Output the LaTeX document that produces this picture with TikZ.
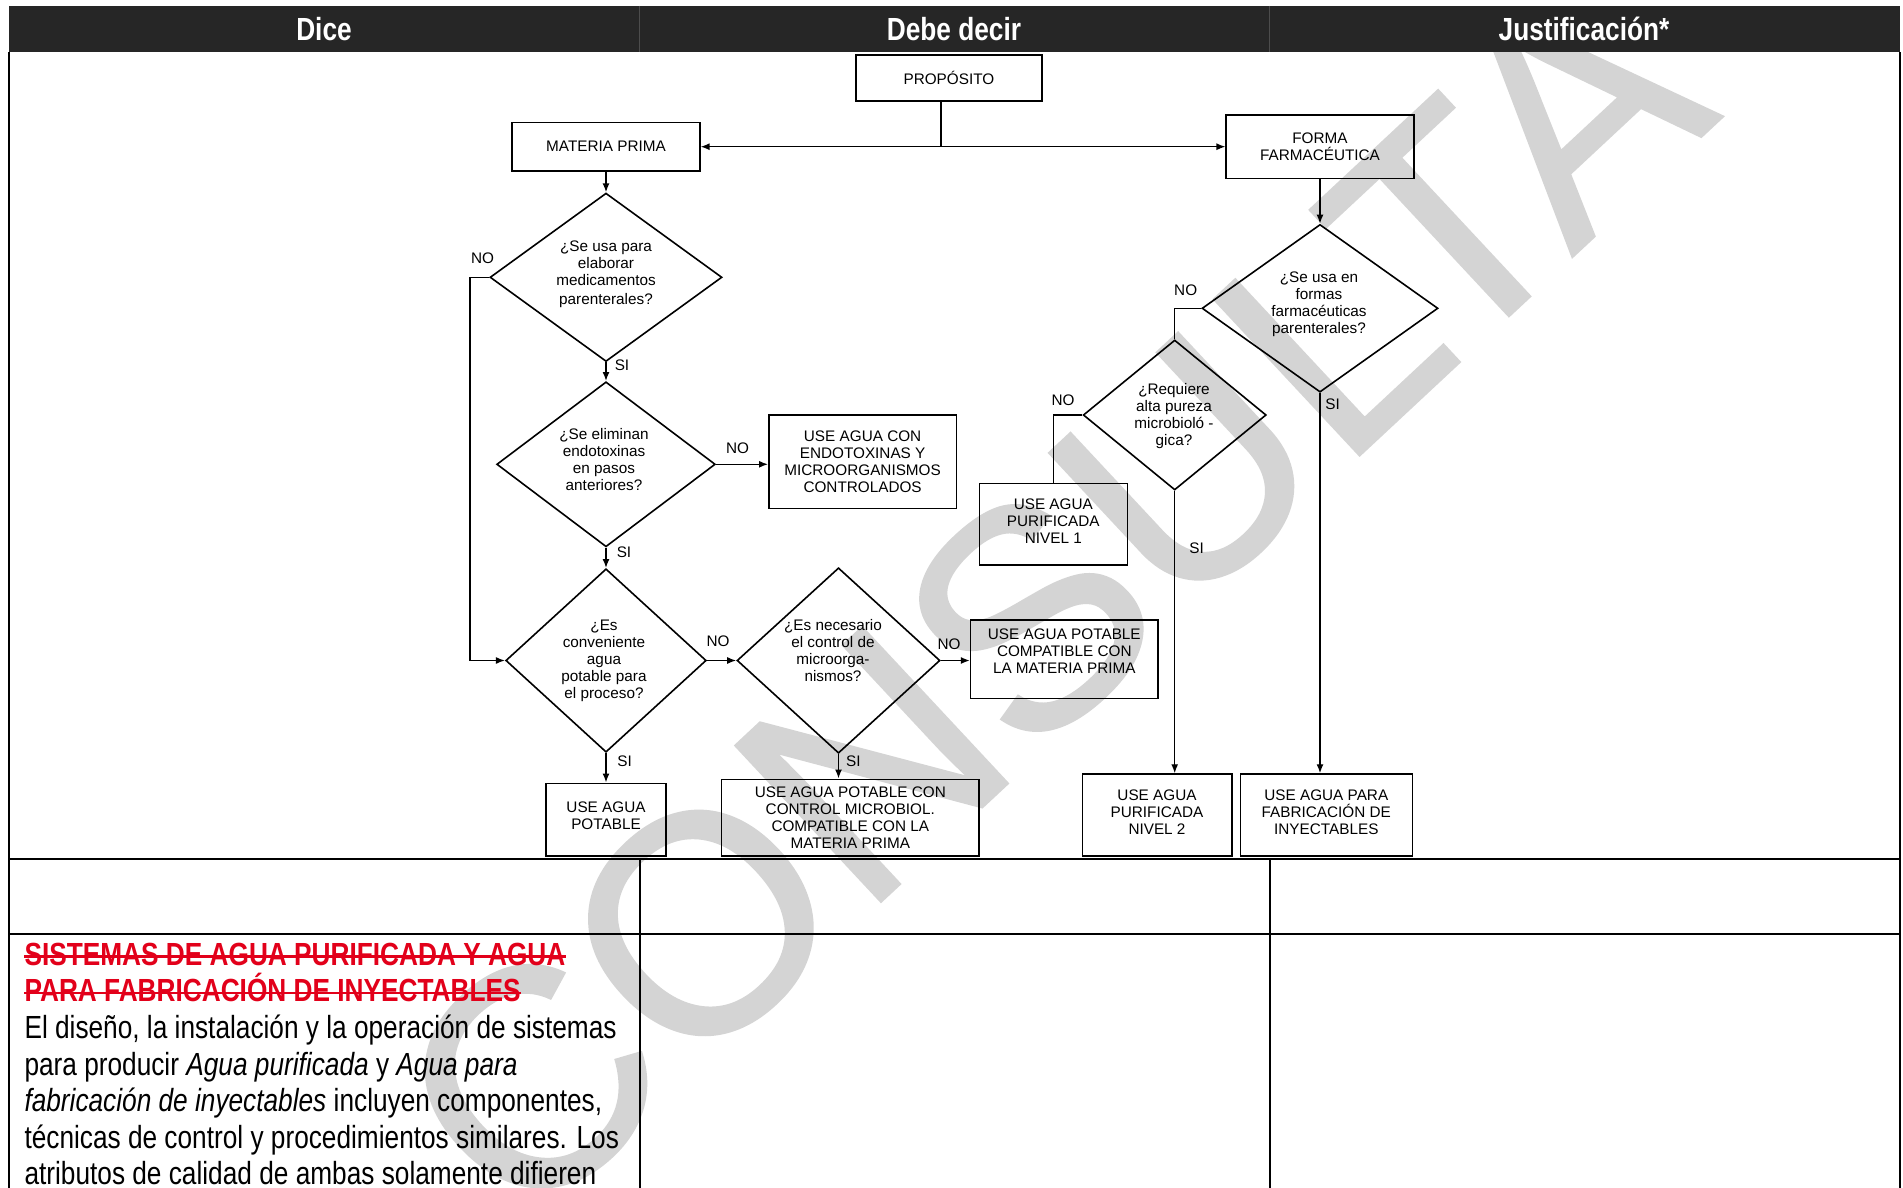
\documentclass[tikz,border=0pt]{standalone}
\usepackage{fontspec}
\setmainfont{Liberation Sans}
\newfontfamily\narrowfont[FakeStretch=0.82]{Liberation Sans}
\newfontfamily\wmfont[FakeBold=0.8]{Liberation Sans}
\usetikzlibrary{shapes.geometric,arrows.meta,calc}
\definecolor{hdr}{RGB}{38,38,38}
\definecolor{redtxt}{RGB}{226,0,26}
\definecolor{wm}{RGB}{212,212,212}
\begin{document}
\begin{tikzpicture}[x=1pt,y=-1pt,
  fc/.style={font=\fontsize{15.3}{17}\selectfont},
  box/.style={draw, line width=1.6pt, inner sep=0pt, align=center, fc},
  dia/.style={draw, diamond, line width=1.6pt, inner sep=0pt},
  dtext/.style={align=center, fc, inner sep=0pt},
  lbl/.style={fc, inner sep=0pt},
  arr/.style={line width=1.4pt, -{Latex[length=9pt,width=7pt]}},
  ln/.style={line width=1.4pt},
  tline/.style={line width=2pt},
  hd/.style={anchor=base, text=white, inner sep=0pt, font=\narrowfont\bfseries\fontsize{32}{36}\selectfont},
  body/.style={anchor=base west, inner sep=0pt, font=\narrowfont\fontsize{32}{36.6}\selectfont},
  strike/.style={draw=redtxt, line width=2.2pt}
]
\useasboundingbox (0,0) rectangle (1903,1188);
\clip (0,0) rectangle (1903,1188);
\fill[white] (0,0) rectangle (1903,1188);

% watermark
\node[rotate=43, text=wm, inner sep=0pt, font=\wmfont\fontsize{310}{310}\selectfont] (wmk) at (1050,598) {CONSULTA};

% header
\fill[hdr] (8.5,6) rectangle (1899.5,52);
\draw[black!70, line width=1pt] (639.6,6) -- (639.6,52) (1269.5,6) -- (1269.5,52);
\node[hd] (h1) at (324,41) {Dice};
\node[hd] (h2) at (954,41) {Debe decir};
\node[hd] (h3) at (1584,41) {Justificación*};

% table lines
\draw[tline] (8.5,52) -- (8.5,1188) (1899.5,52) -- (1899.5,1188)
  (8.5,859) -- (1899.5,859) (8.5,934) -- (1899.5,934)
  (639.6,859) -- (639.6,1188) (1269.5,859) -- (1269.5,1188);

% boxes
\node[box, minimum width=186.3pt, minimum height=45.7pt] (prop) at (948.9,77.9) {PROPÓSITO};
\node[box, minimum width=187.6pt, minimum height=48pt] (mp) at (606,146.7) {MATERIA PRIMA};
\node[box, minimum width=187.5pt, minimum height=63.3pt] (ff) at (1320,146.7) {FORMA\\FARMACÉUTICA};
\node[box, minimum width=187.5pt, minimum height=93.3pt] (endo) at (862.6,461.7) {USE AGUA CON\\ENDOTOXINAS Y\\MICROORGANISMOS\\CONTROLADOS};
\node[box, minimum width=148pt, minimum height=81.7pt] (niv1) at (1053.3,524.2) {};
\node[dtext] (niv1t) at (1053.3,521) {USE AGUA\\PURIFICADA\\NIVEL 1};
\node[box, minimum width=187.4pt, minimum height=78.3pt] (pcomp) at (1064.3,659.2) {};
\node[dtext] (pcompt) at (1064.3,651) {USE AGUA POTABLE\\COMPATIBLE CON\\LA MATERIA PRIMA};
\node[box, minimum width=119.6pt, minimum height=72.4pt] (potable) at (606,819.5) {};
\node[dtext] (potablet) at (606,815.5) {USE AGUA\\POTABLE};
\node[box, minimum width=257.9pt, minimum height=76.4pt] (pctrl) at (850.3,817.5) {USE AGUA POTABLE CON\\CONTROL MICROBIOL.\\COMPATIBLE CON LA\\MATERIA PRIMA};
\node[box, minimum width=149.4pt, minimum height=81.7pt] (niv2) at (1157,814.9) {};
\node[dtext] (niv2t) at (1157,812) {USE AGUA\\PURIFICADA\\NIVEL 2};
\node[box, minimum width=172pt, minimum height=81.7pt] (iny) at (1326.3,814.9) {};
\node[dtext] (inyt) at (1326.3,812) {USE AGUA PARA\\FABRICACIÓN DE\\INYECTABLES};

% diamonds
\node[dia, minimum width=232pt, minimum height=168.4pt] (d1) at (606,277.3) {};
\node[dtext] (d1t) at (606,274) {¿Se usa para\\elaborar\\medicamentos\\[2pt]parenterales?};
\node[dia, minimum width=218.6pt, minimum height=165pt] (d2) at (606,464.3) {};
\node[dtext] (d2t) at (604,460) {¿Se eliminan\\endotoxinas\\en pasos\\anteriores?};
\node[dia, minimum width=200.5pt, minimum height=183.4pt] (d3) at (606,660.5) {};
\node[dtext] (d3t) at (604,661) {¿Es\\conveniente\\agua\\potable para\\el proceso?};
\node[dia, minimum width=203pt, minimum height=185.4pt] (d4) at (838.5,660.5) {};
\node[dtext] (d4t) at (833,651) {¿Es necesario\\el control de\\microorga-\\nismos?};
\node[dia, minimum width=236pt, minimum height=167.7pt] (d5) at (1320,308.3) {};
\node[dtext] (d5t) at (1319,304) {¿Se usa en\\formas\\farmacéuticas\\parenterales?};
\node[dia, minimum width=183pt, minimum height=150pt] (d6) at (1174.7,415) {};
\node[dtext] (d6t) at (1174,416) {¿Requiere\\alta pureza\\microbioló -\\gica?};

% connectors
\coordinate (jn) at (941,146.7);
\coordinate (nl) at (470,277.3);
\draw[ln] (prop.south -| jn) -- (jn);
\draw[arr] (jn) -- (mp.east);
\draw[arr] (jn) -- (ff.west);
\draw[arr] (mp.south) -- (d1.north);
\draw[arr] (d1.south) -- (d2.north);
\draw[arr] (d2.south) -- (d3.north);
\draw[arr] (d2.east) -- (d2.east -| endo.west);
\draw[arr] (d1.west) -- (nl) |- (d3.west);
\draw[arr] (d3.east) -- (d4.west);
\draw[arr] (d4.east) -- (d4.east -| pcomp.west);
\draw[arr] (d3.south) -- (d3.south |- potable.north);
\draw[arr] (d4.south) -- (d4.south |- pctrl.north);
\draw[arr] (ff.south) -- (d5.north);
\draw[ln] (d5.west) -| (d6.north);
\draw[ln] (d6.west) -| (niv1.north);
\draw[arr] (d6.south) -- (d6.south |- niv2.north);
\draw[arr] (d5.south) -- (d5.south |- iny.north);

% labels
\node[lbl] (no1) at (482.5,258.3) {NO};
\node[lbl] (si1) at (622,365) {SI};
\node[lbl] (no2) at (737.5,448.3) {NO};
\node[lbl] (si2) at (624,552) {SI};
\node[lbl] (no3) at (718,641.7) {NO};
\node[lbl] (no4) at (949,644) {NO};
\node[lbl] (si3) at (624.6,761.7) {SI};
\node[lbl] (si4) at (853.4,761.7) {SI};
\node[lbl] (no5) at (1185.7,290.7) {NO};
\node[lbl] (si5) at (1332.7,404.5) {SI};
\node[lbl] (no6) at (1063,400) {NO};
\node[lbl] (si6) at (1196.7,548.3) {SI};

% body text
\node[body, text=redtxt] (r1) at (24.3,965) {\bfseries SISTEMAS DE AGUA PURIFICADA Y AGUA};
\node[body, text=redtxt] (r2) at (24.3,1001.7) {\bfseries PARA FABRICACIÓN DE INYECTABLES};
\draw[strike] ($(r1.base west)+(0,-8.5)$) -- ($(r1.base east)+(0,-8.5)$);
\draw[strike] ($(r2.base west)+(0,-8.5)$) -- ($(r2.base east)+(0,-8.5)$);
\node[body] (b1) at (24.3,1038.3) {El diseño, la instalación y la operación de sistemas};
\node[body] (b2) at (24.3,1075) {para producir \textit{Agua purificada} y \textit{Agua para}};
\node[body] (b3) at (24.3,1111.6) {\textit{fabricación de inyectables} incluyen componentes,};
\node[body] (b4) at (24.3,1148.2) {técnicas de control y procedimientos similares. Los};
\node[body] (b5) at (24.3,1184.8) {atributos de calidad de ambas solamente difieren};
\end{tikzpicture}
\end{document}
